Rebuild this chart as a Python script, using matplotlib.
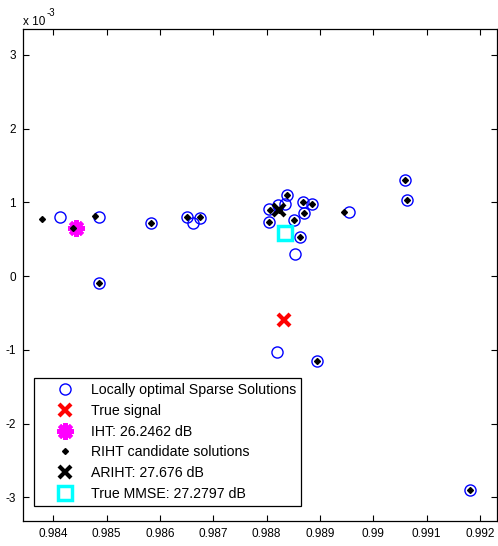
import matplotlib
matplotlib.use('Agg')
import matplotlib.pyplot as plt

plt.rcParams['font.family'] = ['Liberation Sans', 'DejaVu Sans']

# y values are in units of 1e-3
sparse_x = [0.984118, 0.984849, 0.984849, 0.985831, 0.986502, 0.986624, 0.986746,
            0.988054, 0.988054, 0.988223, 0.988349, 0.988380, 0.988523, 0.988692,
            0.988849, 0.988705, 0.988630, 0.988536, 0.989554, 0.990604, 0.990641,
            0.988193, 0.988954, 0.991816]
sparse_y = [0.805, 0.805, -0.099, 0.715, 0.800, 0.719, 0.787,
            0.905, 0.737, 0.963, 0.977, 1.099, 0.760, 1.008,
            0.977, 0.859, 0.525, 0.299, 0.872, 1.303, 1.031,
            -1.027, -1.149, -2.894]

true_x = [0.988335]
true_y = [-0.597]

iht_x = [0.984425]
iht_y = [0.647]

riht_x = [0.983788, 0.984787, 0.984362, 0.984849, 0.985831, 0.986512, 0.986755,
          0.988067, 0.988049, 0.988386, 0.988686, 0.988849, 0.988705, 0.988523,
          0.988630, 0.989454, 0.990604, 0.990641, 0.988954, 0.991816, 0.988236]
riht_y = [0.769, 0.810, 0.655, -0.099, 0.715, 0.800, 0.794,
          0.896, 0.733, 1.099, 1.004, 0.977, 0.859, 0.760,
          0.525, 0.872, 1.303, 1.031, -1.149, -2.894, 0.896]

ariht_x = [0.988236]
ariht_y = [0.889]

mmse_x = [0.988349]
mmse_y = [0.583]

labels = ['Locally optimal Sparse Solutions', 'True signal', 'IHT: 26.2462 dB',
          'RIHT candidate solutions', 'ARIHT: 27.676 dB', 'True MMSE: 27.2797 dB']

fig = plt.figure(figsize=(4.98, 5.46), dpi=100)
ax = fig.add_axes([23/498, 25/546, 474/498, 492/546])

ax.plot(sparse_x, sparse_y, 'o', color='#0000ff', mfc='none', ms=8, mew=1, label=labels[0])
ax.plot(true_x, true_y, 'x', color='red', ms=9, mew=3, label=labels[1])
ax.plot(iht_x, iht_y, marker=(8, 2, 0), ls='none', color='#ff00ff', ms=12, mew=3, label=labels[2])
ax.plot(riht_x, riht_y, 'D', color='black', ms=3, label=labels[3])
ax.plot(ariht_x, ariht_y, 'x', color='black', ms=9, mew=3, label=labels[4])
ax.plot(mmse_x, mmse_y, 's', color='#00ffff', mfc='none', ms=10, mew=2.5, label=labels[5])

ax.set_xlim(0.983432, 0.992322)
ax.set_ylim(-3.32, 3.349)
ax.set_xticks([0.984, 0.985, 0.986, 0.987, 0.988, 0.989, 0.99, 0.991, 0.992])
ax.set_xticklabels(['0.984', '0.985', '0.986', '0.987', '0.988', '0.989', '0.99', '0.991', '0.992'])
ax.set_yticks([-3, -2, -1, 0, 1, 2, 3])
ax.set_yticklabels(['-3', '-2', '-1', '0', '1', '2', '3'])
ax.tick_params(direction='in', top=True, right=True, length=4, width=0.8,
               labelsize=8.5, pad=5)
for s in ax.spines.values():
    s.set_linewidth(0.9)

leg = ax.legend(loc='lower left', bbox_to_anchor=(0.023, 0.03), borderaxespad=0,
                fancybox=False, edgecolor='black', framealpha=1, fontsize=10.2,
                handlelength=3.6, handletextpad=0.0, borderpad=0.4,
                labelspacing=0.47, numpoints=1)
leg.get_frame().set_linewidth(0.9)

fig.text(23/498, 1 - 25/546, 'x 10', fontsize=8.5, va='baseline', ha='left')
fig.text(47/498, 1 - 16/546, '-3', fontsize=7, va='baseline', ha='left')

fig.savefig('out.png', dpi=100)
